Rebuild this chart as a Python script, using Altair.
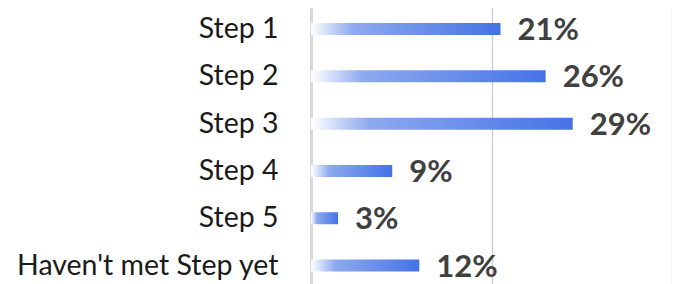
import altair as alt
import pandas as pd

categories = ["Step 1", "Step 2", "Step 3", "Step 4", "Step 5", "Haven't met Step yet"]
values = [0.21, 0.26, 0.29, 0.09, 0.03, 0.12]
labels = ["21%", "26%", "29%", "9%", "3%", "12%"]

df = pd.DataFrame({"cat": categories, "val": values, "lab": labels})

gradient = alt.LinearGradient(
    gradient="linear",
    stops=[
        alt.GradientStop(color="#ffffff", offset=0),
        alt.GradientStop(color="#8eaaef", offset=0.22),
        alt.GradientStop(color="#4472e6", offset=1),
    ],
    x1=0, x2=1, y1=0, y2=0,
)

y_enc = alt.Y(
    "cat:N",
    sort=categories,
    scale=alt.Scale(range=[-2.6, 281.2], paddingInner=0, paddingOuter=0),
    axis=alt.Axis(
        title=None, ticks=False, labelFontSize=28.5, labelFont="Lato",
        labelColor="#1a1a1a", labelPadding=33, grid=False,
        domain=True, domainColor="#d9d9d9", domainWidth=3,
        labelLimit=400,
    ),
)
x_enc = alt.X(
    "val:Q",
    scale=alt.Scale(domain=[0, 0.4], nice=False),
    axis=alt.Axis(
        title=None, labels=False, ticks=False, domain=False,
        values=[0.2, 0.4], grid=True, gridColor="#cccccc", gridWidth=1.3,
    ),
)

bars = alt.Chart(df).mark_bar(color=gradient, size=12).encode(x=x_enc, y=y_enc)
text = alt.Chart(df).mark_text(
    align="left", baseline="middle", dx=17, dy=2,
    font="Lato", fontSize=31, fontWeight="bold", color="#404040",
).encode(x="val:Q", y=alt.Y("cat:N", sort=categories), text="lab:N")

chart = (
    alt.layer(bars, text)
    .properties(width=361, height=276,
                autosize=alt.AutoSizeParams(type="none"),
                padding={"left": 303, "top": 0, "right": 0, "bottom": 0})
    .configure_view(stroke=None)
)
chart.save("out.html", embed_options={"renderer": "svg", "actions": False})
